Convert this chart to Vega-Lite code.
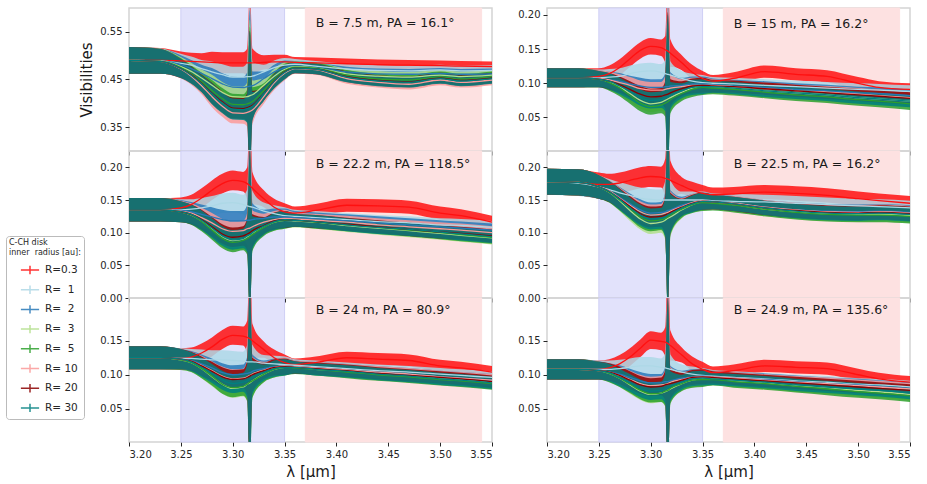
{
  "$schema": "https://vega.github.io/schema/vega-lite/v6.json",
  "description": "Model visibilities for C-CH disks with different inner radii, six baselines.",
  "background": "white",
  "padding": {"left": 5, "top": 6, "right": 5, "bottom": 5},
  "datasets": {
    "zones": [
      {"zone": "aromatic", "x1": 3.25, "x2": 3.35},
      {"zone": "aliphatic", "x1": 3.37, "x2": 3.54}
    ],
    "labels": [
      {"p": "A", "t": "B = 7.5 m, PA = 16.1°"},
      {"p": "B", "t": "B = 15 m, PA = 16.2°"},
      {"p": "C", "t": "B = 22.2 m, PA = 118.5°"},
      {"p": "D", "t": "B = 22.5 m, PA = 16.2°"},
      {"p": "E", "t": "B = 24 m, PA = 80.9°"},
      {"p": "F", "t": "B = 24.9 m, PA = 135.6°"}
    ],
    "vis": [
      {"p":"A","x":3.2,"e":0.028,"a":0.49,"b":0.49,"c":0.49,"d":0.49,"f":0.49,"g":0.49,"h":0.49,"i":0.49},
      {"p":"A","x":3.23,"e":0.026,"a":0.49,"b":0.489,"c":0.489,"d":0.489,"f":0.488,"g":0.488,"h":0.488,"i":0.488},
      {"p":"A","x":3.25,"e":0.02,"a":0.489,"b":0.484,"c":0.481,"d":0.477,"f":0.475,"g":0.472,"h":0.473,"i":0.473},
      {"p":"A","x":3.26,"e":0.018,"a":0.488,"b":0.48,"c":0.473,"d":0.467,"f":0.462,"g":0.457,"h":0.46,"i":0.459},
      {"p":"A","x":3.27,"e":0.018,"a":0.487,"b":0.473,"c":0.463,"d":0.453,"f":0.446,"g":0.437,"h":0.442,"i":0.441},
      {"p":"A","x":3.28,"e":0.022,"a":0.486,"b":0.466,"c":0.452,"d":0.438,"f":0.427,"g":0.414,"h":0.421,"i":0.42},
      {"p":"A","x":3.29,"e":0.022,"a":0.485,"b":0.46,"c":0.441,"d":0.423,"f":0.41,"g":0.394,"h":0.403,"i":0.401},
      {"p":"A","x":3.3,"e":0.022,"a":0.485,"b":0.455,"c":0.434,"d":0.414,"f":0.398,"g":0.38,"h":0.39,"i":0.388},
      {"p":"A","x":3.31,"e":0.022,"a":0.485,"b":0.455,"c":0.433,"d":0.413,"f":0.397,"g":0.379,"h":0.389,"i":0.387},
      {"p":"A","x":3.314,"e":0.03,"a":0.485,"b":0.456,"c":0.435,"d":0.414,"f":0.399,"g":0.381,"h":0.391,"i":0.389},
      {"p":"A","x":3.3165,"e":0.16,"a":0.485,"b":0.456,"c":0.436,"d":0.416,"f":0.401,"g":0.383,"h":0.393,"i":0.391},
      {"p":"A","x":3.319,"e":0.03,"a":0.485,"b":0.457,"c":0.437,"d":0.418,"f":0.404,"g":0.386,"h":0.396,"i":0.394},
      {"p":"A","x":3.33,"e":0.015,"a":0.486,"b":0.466,"c":0.452,"d":0.438,"f":0.427,"g":0.414,"h":0.421,"i":0.42},
      {"p":"A","x":3.34,"e":0.015,"a":0.487,"b":0.475,"c":0.466,"d":0.457,"f":0.45,"g":0.443,"h":0.447,"i":0.446},
      {"p":"A","x":3.35,"e":0.015,"a":0.487,"b":0.48,"c":0.475,"d":0.471,"f":0.468,"g":0.463,"h":0.466,"i":0.465},
      {"p":"A","x":3.36,"e":0.011,"a":0.486,"b":0.482,"c":0.478,"d":0.477,"f":0.476,"g":0.473,"h":0.474,"i":0.474},
      {"p":"A","x":3.38,"e":0.011,"a":0.485,"b":0.478,"c":0.474,"d":0.474,"f":0.474,"g":0.471,"h":0.472,"i":0.472},
      {"p":"A","x":3.41,"e":0.011,"a":0.483,"b":0.472,"c":0.466,"d":0.462,"f":0.459,"g":0.452,"h":0.456,"i":0.455},
      {"p":"A","x":3.44,"e":0.011,"a":0.481,"b":0.469,"c":0.462,"d":0.457,"f":0.451,"g":0.444,"h":0.448,"i":0.447},
      {"p":"A","x":3.47,"e":0.011,"a":0.48,"b":0.468,"c":0.461,"d":0.455,"f":0.449,"g":0.44,"h":0.445,"i":0.444},
      {"p":"A","x":3.5,"e":0.011,"a":0.479,"b":0.47,"c":0.463,"d":0.459,"f":0.456,"g":0.449,"h":0.453,"i":0.452},
      {"p":"A","x":3.52,"e":0.011,"a":0.478,"b":0.468,"c":0.461,"d":0.456,"f":0.451,"g":0.444,"h":0.448,"i":0.447},
      {"p":"A","x":3.55,"e":0.011,"a":0.477,"b":0.469,"c":0.462,"d":0.459,"f":0.456,"g":0.449,"h":0.453,"i":0.452},

      {"p":"B","x":3.2,"e":0.014,"a":0.108,"b":0.108,"c":0.108,"d":0.108,"f":0.108,"g":0.108,"h":0.108,"i":0.108},
      {"p":"B","x":3.23,"e":0.014,"a":0.108,"b":0.108,"c":0.108,"d":0.108,"f":0.108,"g":0.108,"h":0.108,"i":0.108},
      {"p":"B","x":3.25,"e":0.012,"a":0.11,"b":0.108,"c":0.107,"d":0.106,"f":0.106,"g":0.107,"h":0.106,"i":0.106},
      {"p":"B","x":3.26,"e":0.012,"a":0.114,"b":0.109,"c":0.105,"d":0.102,"f":0.101,"g":0.105,"h":0.103,"i":0.103},
      {"p":"B","x":3.27,"e":0.012,"a":0.123,"b":0.11,"c":0.103,"d":0.095,"f":0.093,"g":0.101,"h":0.098,"i":0.096},
      {"p":"B","x":3.28,"e":0.012,"a":0.136,"b":0.114,"c":0.099,"d":0.085,"f":0.082,"g":0.097,"h":0.091,"i":0.088},
      {"p":"B","x":3.29,"e":0.012,"a":0.148,"b":0.117,"c":0.096,"d":0.075,"f":0.071,"g":0.092,"h":0.084,"i":0.079},
      {"p":"B","x":3.3,"e":0.012,"a":0.154,"b":0.118,"c":0.094,"d":0.07,"f":0.066,"g":0.09,"h":0.08,"i":0.075},
      {"p":"B","x":3.31,"e":0.012,"a":0.152,"b":0.116,"c":0.094,"d":0.072,"f":0.068,"g":0.09,"h":0.081,"i":0.076},
      {"p":"B","x":3.314,"e":0.02,"a":0.149,"b":0.114,"c":0.095,"d":0.075,"f":0.071,"g":0.091,"h":0.083,"i":0.079},
      {"p":"B","x":3.3165,"e":0.12,"a":0.147,"b":0.113,"c":0.095,"d":0.077,"f":0.073,"g":0.092,"h":0.084,"i":0.08},
      {"p":"B","x":3.319,"e":0.02,"a":0.144,"b":0.112,"c":0.096,"d":0.079,"f":0.076,"g":0.093,"h":0.086,"i":0.082},
      {"p":"B","x":3.33,"e":0.011,"a":0.13,"b":0.107,"c":0.097,"d":0.087,"f":0.085,"g":0.095,"h":0.092,"i":0.089},
      {"p":"B","x":3.34,"e":0.011,"a":0.116,"b":0.103,"c":0.099,"d":0.093,"f":0.091,"g":0.097,"h":0.096,"i":0.094},
      {"p":"B","x":3.35,"e":0.011,"a":0.107,"b":0.101,"c":0.099,"d":0.095,"f":0.094,"g":0.097,"h":0.097,"i":0.095},
      {"p":"B","x":3.36,"e":0.009,"a":0.103,"b":0.1,"c":0.098,"d":0.095,"f":0.093,"g":0.097,"h":0.096,"i":0.095},
      {"p":"B","x":3.38,"e":0.009,"a":0.107,"b":0.099,"c":0.096,"d":0.093,"f":0.091,"g":0.095,"h":0.095,"i":0.093},
      {"p":"B","x":3.41,"e":0.009,"a":0.117,"b":0.097,"c":0.094,"d":0.089,"f":0.087,"g":0.092,"h":0.092,"i":0.089},
      {"p":"B","x":3.44,"e":0.009,"a":0.113,"b":0.095,"c":0.091,"d":0.086,"f":0.083,"g":0.089,"h":0.089,"i":0.086},
      {"p":"B","x":3.47,"e":0.009,"a":0.11,"b":0.093,"c":0.089,"d":0.083,"f":0.08,"g":0.087,"h":0.086,"i":0.083},
      {"p":"B","x":3.5,"e":0.009,"a":0.1,"b":0.091,"c":0.086,"d":0.079,"f":0.076,"g":0.084,"h":0.083,"i":0.079},
      {"p":"B","x":3.52,"e":0.009,"a":0.094,"b":0.09,"c":0.085,"d":0.077,"f":0.074,"g":0.082,"h":0.081,"i":0.077},
      {"p":"B","x":3.55,"e":0.009,"a":0.091,"b":0.088,"c":0.082,"d":0.074,"f":0.07,"g":0.079,"h":0.078,"i":0.074},

      {"p":"C","x":3.2,"e":0.018,"a":0.135,"b":0.135,"c":0.135,"d":0.135,"f":0.135,"g":0.135,"h":0.135,"i":0.135},
      {"p":"C","x":3.23,"e":0.018,"a":0.135,"b":0.135,"c":0.135,"d":0.135,"f":0.135,"g":0.135,"h":0.135,"i":0.135},
      {"p":"C","x":3.25,"e":0.016,"a":0.138,"b":0.135,"c":0.134,"d":0.132,"f":0.132,"g":0.133,"h":0.132,"i":0.132},
      {"p":"C","x":3.26,"e":0.015,"a":0.143,"b":0.136,"c":0.132,"d":0.127,"f":0.127,"g":0.13,"h":0.128,"i":0.128},
      {"p":"C","x":3.27,"e":0.015,"a":0.153,"b":0.138,"c":0.128,"d":0.118,"f":0.117,"g":0.123,"h":0.12,"i":0.119},
      {"p":"C","x":3.28,"e":0.015,"a":0.165,"b":0.141,"c":0.124,"d":0.106,"f":0.104,"g":0.115,"h":0.109,"i":0.107},
      {"p":"C","x":3.29,"e":0.015,"a":0.175,"b":0.145,"c":0.12,"d":0.094,"f":0.091,"g":0.106,"h":0.098,"i":0.095},
      {"p":"C","x":3.3,"e":0.015,"a":0.18,"b":0.146,"c":0.118,"d":0.088,"f":0.085,"g":0.102,"h":0.093,"i":0.089},
      {"p":"C","x":3.31,"e":0.015,"a":0.178,"b":0.143,"c":0.118,"d":0.09,"f":0.088,"g":0.103,"h":0.095,"i":0.091},
      {"p":"C","x":3.314,"e":0.025,"a":0.175,"b":0.141,"c":0.119,"d":0.094,"f":0.091,"g":0.106,"h":0.098,"i":0.095},
      {"p":"C","x":3.3165,"e":0.13,"a":0.172,"b":0.14,"c":0.119,"d":0.096,"f":0.094,"g":0.107,"h":0.1,"i":0.097},
      {"p":"C","x":3.319,"e":0.025,"a":0.168,"b":0.139,"c":0.12,"d":0.099,"f":0.097,"g":0.109,"h":0.103,"i":0.1},
      {"p":"C","x":3.33,"e":0.013,"a":0.152,"b":0.133,"c":0.122,"d":0.109,"f":0.108,"g":0.116,"h":0.111,"i":0.11},
      {"p":"C","x":3.34,"e":0.013,"a":0.139,"b":0.129,"c":0.124,"d":0.116,"f":0.116,"g":0.12,"h":0.118,"i":0.117},
      {"p":"C","x":3.35,"e":0.013,"a":0.132,"b":0.126,"c":0.124,"d":0.119,"f":0.119,"g":0.122,"h":0.12,"i":0.12},
      {"p":"C","x":3.36,"e":0.01,"a":0.13,"b":0.125,"c":0.123,"d":0.118,"f":0.119,"g":0.121,"h":0.119,"i":0.119},
      {"p":"C","x":3.38,"e":0.01,"a":0.134,"b":0.123,"c":0.121,"d":0.116,"f":0.116,"g":0.119,"h":0.117,"i":0.117},
      {"p":"C","x":3.41,"e":0.01,"a":0.142,"b":0.12,"c":0.118,"d":0.111,"f":0.112,"g":0.116,"h":0.113,"i":0.112},
      {"p":"C","x":3.44,"e":0.01,"a":0.141,"b":0.117,"c":0.115,"d":0.107,"f":0.108,"g":0.112,"h":0.109,"i":0.108},
      {"p":"C","x":3.47,"e":0.01,"a":0.139,"b":0.115,"c":0.112,"d":0.103,"f":0.104,"g":0.109,"h":0.105,"i":0.105},
      {"p":"C","x":3.5,"e":0.01,"a":0.13,"b":0.112,"c":0.109,"d":0.099,"f":0.1,"g":0.106,"h":0.101,"i":0.101},
      {"p":"C","x":3.52,"e":0.01,"a":0.126,"b":0.111,"c":0.107,"d":0.096,"f":0.097,"g":0.104,"h":0.099,"i":0.098},
      {"p":"C","x":3.55,"e":0.01,"a":0.116,"b":0.108,"c":0.104,"d":0.092,"f":0.093,"g":0.1,"h":0.095,"i":0.094},

      {"p":"D","x":3.2,"e":0.02,"a":0.178,"b":0.178,"c":0.178,"d":0.178,"f":0.178,"g":0.178,"h":0.178,"i":0.178},
      {"p":"D","x":3.23,"e":0.02,"a":0.177,"b":0.176,"c":0.177,"d":0.177,"f":0.177,"g":0.177,"h":0.177,"i":0.177},
      {"p":"D","x":3.25,"e":0.018,"a":0.174,"b":0.17,"c":0.17,"d":0.17,"f":0.17,"g":0.17,"h":0.17,"i":0.17},
      {"p":"D","x":3.26,"e":0.016,"a":0.174,"b":0.166,"c":0.164,"d":0.162,"f":0.162,"g":0.164,"h":0.163,"i":0.163},
      {"p":"D","x":3.27,"e":0.016,"a":0.176,"b":0.161,"c":0.154,"d":0.149,"f":0.15,"g":0.153,"h":0.152,"i":0.151},
      {"p":"D","x":3.28,"e":0.016,"a":0.18,"b":0.157,"c":0.144,"d":0.134,"f":0.137,"g":0.142,"h":0.14,"i":0.138},
      {"p":"D","x":3.29,"e":0.016,"a":0.184,"b":0.153,"c":0.135,"d":0.121,"f":0.124,"g":0.132,"h":0.129,"i":0.127},
      {"p":"D","x":3.3,"e":0.016,"a":0.186,"b":0.151,"c":0.13,"d":0.114,"f":0.118,"g":0.127,"h":0.124,"i":0.121},
      {"p":"D","x":3.31,"e":0.016,"a":0.185,"b":0.15,"c":0.131,"d":0.116,"f":0.12,"g":0.128,"h":0.125,"i":0.122},
      {"p":"D","x":3.314,"e":0.03,"a":0.183,"b":0.15,"c":0.132,"d":0.119,"f":0.122,"g":0.13,"h":0.127,"i":0.124},
      {"p":"D","x":3.3165,"e":0.15,"a":0.182,"b":0.15,"c":0.134,"d":0.122,"f":0.124,"g":0.131,"h":0.129,"i":0.127},
      {"p":"D","x":3.319,"e":0.03,"a":0.18,"b":0.15,"c":0.135,"d":0.124,"f":0.127,"g":0.133,"h":0.131,"i":0.129},
      {"p":"D","x":3.33,"e":0.013,"a":0.172,"b":0.15,"c":0.142,"d":0.135,"f":0.136,"g":0.14,"h":0.139,"i":0.138},
      {"p":"D","x":3.34,"e":0.013,"a":0.165,"b":0.15,"c":0.146,"d":0.143,"f":0.143,"g":0.146,"h":0.145,"i":0.144},
      {"p":"D","x":3.35,"e":0.013,"a":0.16,"b":0.15,"c":0.149,"d":0.147,"f":0.146,"g":0.149,"h":0.148,"i":0.148},
      {"p":"D","x":3.36,"e":0.011,"a":0.158,"b":0.149,"c":0.148,"d":0.146,"f":0.145,"g":0.147,"h":0.147,"i":0.147},
      {"p":"D","x":3.38,"e":0.011,"a":0.159,"b":0.148,"c":0.145,"d":0.143,"f":0.142,"g":0.145,"h":0.144,"i":0.144},
      {"p":"D","x":3.41,"e":0.011,"a":0.162,"b":0.147,"c":0.139,"d":0.136,"f":0.136,"g":0.139,"h":0.138,"i":0.138},
      {"p":"D","x":3.44,"e":0.011,"a":0.16,"b":0.145,"c":0.135,"d":0.132,"f":0.131,"g":0.135,"h":0.134,"i":0.133},
      {"p":"D","x":3.47,"e":0.011,"a":0.157,"b":0.143,"c":0.133,"d":0.129,"f":0.128,"g":0.132,"h":0.131,"i":0.13},
      {"p":"D","x":3.5,"e":0.011,"a":0.152,"b":0.141,"c":0.132,"d":0.128,"f":0.127,"g":0.131,"h":0.13,"i":0.129},
      {"p":"D","x":3.52,"e":0.011,"a":0.149,"b":0.14,"c":0.133,"d":0.128,"f":0.127,"g":0.132,"h":0.131,"i":0.13},
      {"p":"D","x":3.55,"e":0.011,"a":0.145,"b":0.138,"c":0.131,"d":0.126,"f":0.125,"g":0.13,"h":0.129,"i":0.128},

      {"p":"E","x":3.2,"e":0.017,"a":0.125,"b":0.125,"c":0.125,"d":0.125,"f":0.125,"g":0.125,"h":0.125,"i":0.125},
      {"p":"E","x":3.23,"e":0.017,"a":0.125,"b":0.125,"c":0.125,"d":0.125,"f":0.125,"g":0.125,"h":0.125,"i":0.125},
      {"p":"E","x":3.25,"e":0.015,"a":0.124,"b":0.124,"c":0.123,"d":0.122,"f":0.122,"g":0.123,"h":0.123,"i":0.123},
      {"p":"E","x":3.26,"e":0.014,"a":0.126,"b":0.124,"c":0.121,"d":0.118,"f":0.118,"g":0.12,"h":0.12,"i":0.119},
      {"p":"E","x":3.27,"e":0.014,"a":0.132,"b":0.123,"c":0.116,"d":0.109,"f":0.109,"g":0.114,"h":0.113,"i":0.111},
      {"p":"E","x":3.28,"e":0.014,"a":0.141,"b":0.122,"c":0.11,"d":0.097,"f":0.098,"g":0.106,"h":0.105,"i":0.102},
      {"p":"E","x":3.29,"e":0.014,"a":0.152,"b":0.122,"c":0.103,"d":0.086,"f":0.086,"g":0.098,"h":0.097,"i":0.092},
      {"p":"E","x":3.3,"e":0.014,"a":0.158,"b":0.121,"c":0.1,"d":0.08,"f":0.081,"g":0.094,"h":0.093,"i":0.087},
      {"p":"E","x":3.31,"e":0.014,"a":0.157,"b":0.12,"c":0.101,"d":0.082,"f":0.083,"g":0.095,"h":0.094,"i":0.089},
      {"p":"E","x":3.314,"e":0.025,"a":0.155,"b":0.119,"c":0.102,"d":0.086,"f":0.086,"g":0.097,"h":0.096,"i":0.091},
      {"p":"E","x":3.3165,"e":0.14,"a":0.153,"b":0.119,"c":0.103,"d":0.088,"f":0.089,"g":0.099,"h":0.098,"i":0.093},
      {"p":"E","x":3.319,"e":0.025,"a":0.15,"b":0.119,"c":0.105,"d":0.091,"f":0.091,"g":0.101,"h":0.1,"i":0.096},
      {"p":"E","x":3.33,"e":0.012,"a":0.137,"b":0.117,"c":0.109,"d":0.101,"f":0.101,"g":0.107,"h":0.106,"i":0.103},
      {"p":"E","x":3.34,"e":0.012,"a":0.125,"b":0.116,"c":0.112,"d":0.108,"f":0.108,"g":0.111,"h":0.111,"i":0.109},
      {"p":"E","x":3.35,"e":0.012,"a":0.118,"b":0.115,"c":0.113,"d":0.111,"f":0.111,"g":0.113,"h":0.112,"i":0.111},
      {"p":"E","x":3.36,"e":0.009,"a":0.115,"b":0.114,"c":0.112,"d":0.111,"f":0.11,"g":0.112,"h":0.111,"i":0.111},
      {"p":"E","x":3.38,"e":0.009,"a":0.118,"b":0.112,"c":0.11,"d":0.108,"f":0.108,"g":0.11,"h":0.109,"i":0.108},
      {"p":"E","x":3.41,"e":0.009,"a":0.125,"b":0.109,"c":0.107,"d":0.105,"f":0.104,"g":0.107,"h":0.106,"i":0.105},
      {"p":"E","x":3.44,"e":0.009,"a":0.123,"b":0.106,"c":0.104,"d":0.101,"f":0.1,"g":0.104,"h":0.102,"i":0.101},
      {"p":"E","x":3.47,"e":0.009,"a":0.121,"b":0.104,"c":0.101,"d":0.098,"f":0.097,"g":0.101,"h":0.099,"i":0.098},
      {"p":"E","x":3.5,"e":0.009,"a":0.113,"b":0.101,"c":0.097,"d":0.094,"f":0.093,"g":0.097,"h":0.096,"i":0.094},
      {"p":"E","x":3.52,"e":0.009,"a":0.11,"b":0.099,"c":0.095,"d":0.092,"f":0.091,"g":0.095,"h":0.094,"i":0.092},
      {"p":"E","x":3.55,"e":0.009,"a":0.104,"b":0.096,"c":0.092,"d":0.088,"f":0.087,"g":0.092,"h":0.09,"i":0.088},

      {"p":"F","x":3.2,"e":0.015,"a":0.108,"b":0.108,"c":0.108,"d":0.108,"f":0.108,"g":0.108,"h":0.108,"i":0.108},
      {"p":"F","x":3.23,"e":0.015,"a":0.108,"b":0.108,"c":0.108,"d":0.108,"f":0.108,"g":0.108,"h":0.108,"i":0.108},
      {"p":"F","x":3.25,"e":0.013,"a":0.108,"b":0.108,"c":0.107,"d":0.106,"f":0.106,"g":0.106,"h":0.106,"i":0.106},
      {"p":"F","x":3.26,"e":0.013,"a":0.11,"b":0.108,"c":0.104,"d":0.102,"f":0.102,"g":0.104,"h":0.104,"i":0.103},
      {"p":"F","x":3.27,"e":0.013,"a":0.116,"b":0.109,"c":0.101,"d":0.095,"f":0.095,"g":0.099,"h":0.099,"i":0.096},
      {"p":"F","x":3.28,"e":0.013,"a":0.126,"b":0.111,"c":0.096,"d":0.085,"f":0.086,"g":0.093,"h":0.092,"i":0.088},
      {"p":"F","x":3.29,"e":0.013,"a":0.139,"b":0.113,"c":0.091,"d":0.076,"f":0.077,"g":0.087,"h":0.085,"i":0.08},
      {"p":"F","x":3.3,"e":0.013,"a":0.151,"b":0.113,"c":0.088,"d":0.071,"f":0.072,"g":0.084,"h":0.082,"i":0.076},
      {"p":"F","x":3.31,"e":0.013,"a":0.149,"b":0.111,"c":0.088,"d":0.073,"f":0.073,"g":0.085,"h":0.083,"i":0.077},
      {"p":"F","x":3.314,"e":0.022,"a":0.148,"b":0.11,"c":0.09,"d":0.075,"f":0.076,"g":0.086,"h":0.085,"i":0.079},
      {"p":"F","x":3.3165,"e":0.13,"a":0.146,"b":0.109,"c":0.09,"d":0.077,"f":0.077,"g":0.087,"h":0.086,"i":0.081},
      {"p":"F","x":3.319,"e":0.022,"a":0.143,"b":0.108,"c":0.091,"d":0.079,"f":0.08,"g":0.089,"h":0.087,"i":0.083},
      {"p":"F","x":3.33,"e":0.011,"a":0.129,"b":0.104,"c":0.095,"d":0.087,"f":0.087,"g":0.093,"h":0.092,"i":0.089},
      {"p":"F","x":3.34,"e":0.011,"a":0.116,"b":0.101,"c":0.097,"d":0.092,"f":0.092,"g":0.096,"h":0.096,"i":0.094},
      {"p":"F","x":3.35,"e":0.011,"a":0.108,"b":0.099,"c":0.098,"d":0.094,"f":0.093,"g":0.097,"h":0.097,"i":0.095},
      {"p":"F","x":3.36,"e":0.009,"a":0.103,"b":0.098,"c":0.097,"d":0.094,"f":0.093,"g":0.097,"h":0.096,"i":0.094},
      {"p":"F","x":3.38,"e":0.009,"a":0.106,"b":0.096,"c":0.095,"d":0.091,"f":0.09,"g":0.095,"h":0.094,"i":0.092},
      {"p":"F","x":3.41,"e":0.009,"a":0.113,"b":0.094,"c":0.093,"d":0.088,"f":0.087,"g":0.092,"h":0.091,"i":0.089},
      {"p":"F","x":3.44,"e":0.009,"a":0.111,"b":0.091,"c":0.09,"d":0.084,"f":0.083,"g":0.089,"h":0.088,"i":0.085},
      {"p":"F","x":3.47,"e":0.009,"a":0.109,"b":0.089,"c":0.087,"d":0.081,"f":0.079,"g":0.087,"h":0.085,"i":0.082},
      {"p":"F","x":3.5,"e":0.009,"a":0.1,"b":0.086,"c":0.085,"d":0.077,"f":0.075,"g":0.084,"h":0.082,"i":0.079},
      {"p":"F","x":3.52,"e":0.009,"a":0.094,"b":0.085,"c":0.083,"d":0.075,"f":0.073,"g":0.082,"h":0.08,"i":0.077},
      {"p":"F","x":3.55,"e":0.009,"a":0.089,"b":0.082,"c":0.08,"d":0.071,"f":0.069,"g":0.079,"h":0.077,"i":0.073}
    ]
  },
  "columns": 2,
  "spacing": {"row": 0, "column": 55},
  "bounds": "flush",
  "resolve": {"scale": {"y": "independent"}, "axis": {"x": "independent", "y": "independent"}},
  "concat": [
    {
      "width": 363, "height": 143,
      "layer": [
        {"data": {"name": "zones"}, "mark": {"type": "rect", "strokeWidth": 1},
         "encoding": {
           "x": {"field": "x1", "type": "quantitative", "scale": {"domain": [3.2, 3.55], "nice": false, "zero": false},
                 "axis": {"values": [3.2, 3.25, 3.3, 3.35, 3.4, 3.45, 3.5, 3.55], "tickCount": 20, "labels": false, "title": null}},
           "x2": {"field": "x2"},
           "fill": {"field": "zone", "type": "nominal", "scale": {"domain": ["aromatic", "aliphatic"], "range": ["#e2e2fb", "#fde1e1"]}, "legend": null},
           "stroke": {"field": "zone", "type": "nominal", "scale": {"domain": ["aromatic", "aliphatic"], "range": ["#cfcff5", "#fde1e1"]}, "legend": null}}},
        {"data": {"name": "vis"},
         "transform": [{"filter": "datum.p == 'A'"}, {"fold": ["a", "b", "c", "d", "f", "g", "h", "i"], "as": ["k", "v"]}],
         "layer": [
           {"mark": {"type": "errorband", "opacity": 0.85, "interpolate": "monotone", "clip": true},
            "encoding": {
              "x": {"field": "x", "type": "quantitative", "scale": {"domain": [3.2, 3.55], "nice": false, "zero": false}},
              "y": {"field": "v", "type": "quantitative", "scale": {"domain": [0.3, 0.6], "nice": false, "zero": false},
                    "axis": {"values": [0.35, 0.45, 0.55], "tickCount": 20, "format": ".2f", "title": "Visibilities"}},
              "yError": {"field": "e"},
              "color": {"field": "k", "type": "nominal", "scale": {"domain": ["a", "b", "c", "d", "f", "g", "h", "i"], "range": ["#ff1010", "#add8e6", "#2878b8", "#b2df8a", "#2ca02c", "#fb9a99", "#8b0000", "#008080"]},
                        "legend": {"title": ["C-CH disk", "inner\u00a0 radius [au]:"], "labelExpr": "datum.value=='a'?'R=0.3':datum.value=='b'?'R=\u00a0\u00a01':datum.value=='c'?'R=\u00a0\u00a02':datum.value=='d'?'R=\u00a0\u00a03':datum.value=='f'?'R=\u00a0\u00a05':datum.value=='g'?'R=\u00a010':datum.value=='h'?'R=\u00a020':'R=\u00a030'"}}}},
           {"mark": {"type": "line", "strokeWidth": 1.3, "interpolate": "monotone", "clip": true},
            "encoding": {
              "x": {"field": "x", "type": "quantitative"},
              "y": {"field": "v", "type": "quantitative"},
              "color": {"field": "k", "type": "nominal", "scale": {"domain": ["a", "b", "c", "d", "f", "g", "h", "i"], "range": ["#ff1010", "#add8e6", "#2878b8", "#b2df8a", "#2ca02c", "#fb9a99", "#8b0000", "#008080"]},
                        "legend": {"title": ["C-CH disk", "inner\u00a0 radius [au]:"], "labelExpr": "datum.value=='a'?'R=0.3':datum.value=='b'?'R=\u00a0\u00a01':datum.value=='c'?'R=\u00a0\u00a02':datum.value=='d'?'R=\u00a0\u00a03':datum.value=='f'?'R=\u00a0\u00a05':datum.value=='g'?'R=\u00a010':datum.value=='h'?'R=\u00a020':'R=\u00a030'"}}}}
         ]},
        {"data": {"name": "labels"}, "transform": [{"filter": "datum.p == 'A'"}],
         "mark": {"type": "text", "align": "left", "baseline": "middle", "fontSize": 12.5, "color": "#1a1a1a"},
         "encoding": {"x": {"datum": 3.38, "type": "quantitative"}, "y": {"datum": 0.568, "type": "quantitative"}, "text": {"field": "t"}}}
      ]
    },
    {
      "width": 363, "height": 143,
      "layer": [
        {"data": {"name": "zones"}, "mark": {"type": "rect", "strokeWidth": 1},
         "encoding": {
           "x": {"field": "x1", "type": "quantitative", "scale": {"domain": [3.2, 3.55], "nice": false, "zero": false},
                 "axis": {"values": [3.2, 3.25, 3.3, 3.35, 3.4, 3.45, 3.5, 3.55], "tickCount": 20, "labels": false, "title": null}},
           "x2": {"field": "x2"},
           "fill": {"field": "zone", "type": "nominal", "scale": {"domain": ["aromatic", "aliphatic"], "range": ["#e2e2fb", "#fde1e1"]}, "legend": null},
           "stroke": {"field": "zone", "type": "nominal", "scale": {"domain": ["aromatic", "aliphatic"], "range": ["#cfcff5", "#fde1e1"]}, "legend": null}}},
        {"data": {"name": "vis"},
         "transform": [{"filter": "datum.p == 'B'"}, {"fold": ["a", "b", "c", "d", "f", "g", "h", "i"], "as": ["k", "v"]}],
         "layer": [
           {"mark": {"type": "errorband", "opacity": 0.85, "interpolate": "monotone", "clip": true},
            "encoding": {
              "x": {"field": "x", "type": "quantitative", "scale": {"domain": [3.2, 3.55], "nice": false, "zero": false}},
              "y": {"field": "v", "type": "quantitative", "scale": {"domain": [0.001, 0.21], "nice": false, "zero": false},
                    "axis": {"values": [0.05, 0.1, 0.15, 0.2], "tickCount": 20, "format": ".2f", "title": null}},
              "yError": {"field": "e"},
              "color": {"field": "k", "type": "nominal", "scale": {"domain": ["a", "b", "c", "d", "f", "g", "h", "i"], "range": ["#ff1010", "#add8e6", "#2878b8", "#b2df8a", "#2ca02c", "#fb9a99", "#8b0000", "#008080"]},
                        "legend": {"title": ["C-CH disk", "inner\u00a0 radius [au]:"], "labelExpr": "datum.value=='a'?'R=0.3':datum.value=='b'?'R=\u00a0\u00a01':datum.value=='c'?'R=\u00a0\u00a02':datum.value=='d'?'R=\u00a0\u00a03':datum.value=='f'?'R=\u00a0\u00a05':datum.value=='g'?'R=\u00a010':datum.value=='h'?'R=\u00a020':'R=\u00a030'"}}}},
           {"mark": {"type": "line", "strokeWidth": 1.3, "interpolate": "monotone", "clip": true},
            "encoding": {
              "x": {"field": "x", "type": "quantitative"},
              "y": {"field": "v", "type": "quantitative"},
              "color": {"field": "k", "type": "nominal", "scale": {"domain": ["a", "b", "c", "d", "f", "g", "h", "i"], "range": ["#ff1010", "#add8e6", "#2878b8", "#b2df8a", "#2ca02c", "#fb9a99", "#8b0000", "#008080"]},
                        "legend": {"title": ["C-CH disk", "inner\u00a0 radius [au]:"], "labelExpr": "datum.value=='a'?'R=0.3':datum.value=='b'?'R=\u00a0\u00a01':datum.value=='c'?'R=\u00a0\u00a02':datum.value=='d'?'R=\u00a0\u00a03':datum.value=='f'?'R=\u00a0\u00a05':datum.value=='g'?'R=\u00a010':datum.value=='h'?'R=\u00a020':'R=\u00a030'"}}}}
         ]},
        {"data": {"name": "labels"}, "transform": [{"filter": "datum.p == 'B'"}],
         "mark": {"type": "text", "align": "left", "baseline": "middle", "fontSize": 12.5, "color": "#1a1a1a"},
         "encoding": {"x": {"datum": 3.38, "type": "quantitative"}, "y": {"datum": 0.187, "type": "quantitative"}, "text": {"field": "t"}}}
      ]
    },
    {
      "width": 363, "height": 147,
      "layer": [
        {"data": {"name": "zones"}, "mark": {"type": "rect", "strokeWidth": 1},
         "encoding": {
           "x": {"field": "x1", "type": "quantitative", "scale": {"domain": [3.2, 3.55], "nice": false, "zero": false},
                 "axis": {"values": [3.2, 3.25, 3.3, 3.35, 3.4, 3.45, 3.5, 3.55], "tickCount": 20, "labels": false, "title": null}},
           "x2": {"field": "x2"},
           "fill": {"field": "zone", "type": "nominal", "scale": {"domain": ["aromatic", "aliphatic"], "range": ["#e2e2fb", "#fde1e1"]}, "legend": null},
           "stroke": {"field": "zone", "type": "nominal", "scale": {"domain": ["aromatic", "aliphatic"], "range": ["#cfcff5", "#fde1e1"]}, "legend": null}}},
        {"data": {"name": "vis"},
         "transform": [{"filter": "datum.p == 'C'"}, {"fold": ["a", "b", "c", "d", "f", "g", "h", "i"], "as": ["k", "v"]}],
         "layer": [
           {"mark": {"type": "errorband", "opacity": 0.85, "interpolate": "monotone", "clip": true},
            "encoding": {
              "x": {"field": "x", "type": "quantitative", "scale": {"domain": [3.2, 3.55], "nice": false, "zero": false}},
              "y": {"field": "v", "type": "quantitative", "scale": {"domain": [0, 0.225], "nice": false, "zero": false},
                    "axis": {"values": [0, 0.05, 0.1, 0.15, 0.2], "tickCount": 20, "format": ".2f", "title": null}},
              "yError": {"field": "e"},
              "color": {"field": "k", "type": "nominal", "scale": {"domain": ["a", "b", "c", "d", "f", "g", "h", "i"], "range": ["#ff1010", "#add8e6", "#2878b8", "#b2df8a", "#2ca02c", "#fb9a99", "#8b0000", "#008080"]},
                        "legend": {"title": ["C-CH disk", "inner\u00a0 radius [au]:"], "labelExpr": "datum.value=='a'?'R=0.3':datum.value=='b'?'R=\u00a0\u00a01':datum.value=='c'?'R=\u00a0\u00a02':datum.value=='d'?'R=\u00a0\u00a03':datum.value=='f'?'R=\u00a0\u00a05':datum.value=='g'?'R=\u00a010':datum.value=='h'?'R=\u00a020':'R=\u00a030'"}}}},
           {"mark": {"type": "line", "strokeWidth": 1.3, "interpolate": "monotone", "clip": true},
            "encoding": {
              "x": {"field": "x", "type": "quantitative"},
              "y": {"field": "v", "type": "quantitative"},
              "color": {"field": "k", "type": "nominal", "scale": {"domain": ["a", "b", "c", "d", "f", "g", "h", "i"], "range": ["#ff1010", "#add8e6", "#2878b8", "#b2df8a", "#2ca02c", "#fb9a99", "#8b0000", "#008080"]},
                        "legend": {"title": ["C-CH disk", "inner\u00a0 radius [au]:"], "labelExpr": "datum.value=='a'?'R=0.3':datum.value=='b'?'R=\u00a0\u00a01':datum.value=='c'?'R=\u00a0\u00a02':datum.value=='d'?'R=\u00a0\u00a03':datum.value=='f'?'R=\u00a0\u00a05':datum.value=='g'?'R=\u00a010':datum.value=='h'?'R=\u00a020':'R=\u00a030'"}}}}
         ]},
        {"data": {"name": "labels"}, "transform": [{"filter": "datum.p == 'C'"}],
         "mark": {"type": "text", "align": "left", "baseline": "middle", "fontSize": 12.5, "color": "#1a1a1a"},
         "encoding": {"x": {"datum": 3.38, "type": "quantitative"}, "y": {"datum": 0.205, "type": "quantitative"}, "text": {"field": "t"}}}
      ]
    },
    {
      "width": 363, "height": 147,
      "layer": [
        {"data": {"name": "zones"}, "mark": {"type": "rect", "strokeWidth": 1},
         "encoding": {
           "x": {"field": "x1", "type": "quantitative", "scale": {"domain": [3.2, 3.55], "nice": false, "zero": false},
                 "axis": {"values": [3.2, 3.25, 3.3, 3.35, 3.4, 3.45, 3.5, 3.55], "tickCount": 20, "labels": false, "title": null}},
           "x2": {"field": "x2"},
           "fill": {"field": "zone", "type": "nominal", "scale": {"domain": ["aromatic", "aliphatic"], "range": ["#e2e2fb", "#fde1e1"]}, "legend": null},
           "stroke": {"field": "zone", "type": "nominal", "scale": {"domain": ["aromatic", "aliphatic"], "range": ["#cfcff5", "#fde1e1"]}, "legend": null}}},
        {"data": {"name": "vis"},
         "transform": [{"filter": "datum.p == 'D'"}, {"fold": ["a", "b", "c", "d", "f", "g", "h", "i"], "as": ["k", "v"]}],
         "layer": [
           {"mark": {"type": "errorband", "opacity": 0.85, "interpolate": "monotone", "clip": true},
            "encoding": {
              "x": {"field": "x", "type": "quantitative", "scale": {"domain": [3.2, 3.55], "nice": false, "zero": false}},
              "y": {"field": "v", "type": "quantitative", "scale": {"domain": [0, 0.225], "nice": false, "zero": false},
                    "axis": {"values": [0, 0.05, 0.1, 0.15, 0.2], "tickCount": 20, "format": ".2f", "title": null}},
              "yError": {"field": "e"},
              "color": {"field": "k", "type": "nominal", "scale": {"domain": ["a", "b", "c", "d", "f", "g", "h", "i"], "range": ["#ff1010", "#add8e6", "#2878b8", "#b2df8a", "#2ca02c", "#fb9a99", "#8b0000", "#008080"]},
                        "legend": {"title": ["C-CH disk", "inner\u00a0 radius [au]:"], "labelExpr": "datum.value=='a'?'R=0.3':datum.value=='b'?'R=\u00a0\u00a01':datum.value=='c'?'R=\u00a0\u00a02':datum.value=='d'?'R=\u00a0\u00a03':datum.value=='f'?'R=\u00a0\u00a05':datum.value=='g'?'R=\u00a010':datum.value=='h'?'R=\u00a020':'R=\u00a030'"}}}},
           {"mark": {"type": "line", "strokeWidth": 1.3, "interpolate": "monotone", "clip": true},
            "encoding": {
              "x": {"field": "x", "type": "quantitative"},
              "y": {"field": "v", "type": "quantitative"},
              "color": {"field": "k", "type": "nominal", "scale": {"domain": ["a", "b", "c", "d", "f", "g", "h", "i"], "range": ["#ff1010", "#add8e6", "#2878b8", "#b2df8a", "#2ca02c", "#fb9a99", "#8b0000", "#008080"]},
                        "legend": {"title": ["C-CH disk", "inner\u00a0 radius [au]:"], "labelExpr": "datum.value=='a'?'R=0.3':datum.value=='b'?'R=\u00a0\u00a01':datum.value=='c'?'R=\u00a0\u00a02':datum.value=='d'?'R=\u00a0\u00a03':datum.value=='f'?'R=\u00a0\u00a05':datum.value=='g'?'R=\u00a010':datum.value=='h'?'R=\u00a020':'R=\u00a030'"}}}}
         ]},
        {"data": {"name": "labels"}, "transform": [{"filter": "datum.p == 'D'"}],
         "mark": {"type": "text", "align": "left", "baseline": "middle", "fontSize": 12.5, "color": "#1a1a1a"},
         "encoding": {"x": {"datum": 3.38, "type": "quantitative"}, "y": {"datum": 0.205, "type": "quantitative"}, "text": {"field": "t"}}}
      ]
    },
    {
      "width": 363, "height": 144,
      "layer": [
        {"data": {"name": "zones"}, "mark": {"type": "rect", "strokeWidth": 1},
         "encoding": {
           "x": {"field": "x1", "type": "quantitative", "scale": {"domain": [3.2, 3.55], "nice": false, "zero": false},
                 "axis": {"values": [3.2, 3.25, 3.3, 3.35, 3.4, 3.45, 3.5, 3.55], "tickCount": 20, "format": ".2f", "title": "λ [μm]"}},
           "x2": {"field": "x2"},
           "fill": {"field": "zone", "type": "nominal", "scale": {"domain": ["aromatic", "aliphatic"], "range": ["#e2e2fb", "#fde1e1"]}, "legend": null},
           "stroke": {"field": "zone", "type": "nominal", "scale": {"domain": ["aromatic", "aliphatic"], "range": ["#cfcff5", "#fde1e1"]}, "legend": null}}},
        {"data": {"name": "vis"},
         "transform": [{"filter": "datum.p == 'E'"}, {"fold": ["a", "b", "c", "d", "f", "g", "h", "i"], "as": ["k", "v"]}],
         "layer": [
           {"mark": {"type": "errorband", "opacity": 0.85, "interpolate": "monotone", "clip": true},
            "encoding": {
              "x": {"field": "x", "type": "quantitative", "scale": {"domain": [3.2, 3.55], "nice": false, "zero": false}},
              "y": {"field": "v", "type": "quantitative", "scale": {"domain": [0.001, 0.213], "nice": false, "zero": false},
                    "axis": {"values": [0.05, 0.1, 0.15], "tickCount": 20, "format": ".2f", "title": null}},
              "yError": {"field": "e"},
              "color": {"field": "k", "type": "nominal", "scale": {"domain": ["a", "b", "c", "d", "f", "g", "h", "i"], "range": ["#ff1010", "#add8e6", "#2878b8", "#b2df8a", "#2ca02c", "#fb9a99", "#8b0000", "#008080"]},
                        "legend": {"title": ["C-CH disk", "inner\u00a0 radius [au]:"], "labelExpr": "datum.value=='a'?'R=0.3':datum.value=='b'?'R=\u00a0\u00a01':datum.value=='c'?'R=\u00a0\u00a02':datum.value=='d'?'R=\u00a0\u00a03':datum.value=='f'?'R=\u00a0\u00a05':datum.value=='g'?'R=\u00a010':datum.value=='h'?'R=\u00a020':'R=\u00a030'"}}}},
           {"mark": {"type": "line", "strokeWidth": 1.3, "interpolate": "monotone", "clip": true},
            "encoding": {
              "x": {"field": "x", "type": "quantitative"},
              "y": {"field": "v", "type": "quantitative"},
              "color": {"field": "k", "type": "nominal", "scale": {"domain": ["a", "b", "c", "d", "f", "g", "h", "i"], "range": ["#ff1010", "#add8e6", "#2878b8", "#b2df8a", "#2ca02c", "#fb9a99", "#8b0000", "#008080"]},
                        "legend": {"title": ["C-CH disk", "inner\u00a0 radius [au]:"], "labelExpr": "datum.value=='a'?'R=0.3':datum.value=='b'?'R=\u00a0\u00a01':datum.value=='c'?'R=\u00a0\u00a02':datum.value=='d'?'R=\u00a0\u00a03':datum.value=='f'?'R=\u00a0\u00a05':datum.value=='g'?'R=\u00a010':datum.value=='h'?'R=\u00a020':'R=\u00a030'"}}}}
         ]},
        {"data": {"name": "labels"}, "transform": [{"filter": "datum.p == 'E'"}],
         "mark": {"type": "text", "align": "left", "baseline": "middle", "fontSize": 12.5, "color": "#1a1a1a"},
         "encoding": {"x": {"datum": 3.38, "type": "quantitative"}, "y": {"datum": 0.196, "type": "quantitative"}, "text": {"field": "t"}}}
      ]
    },
    {
      "width": 363, "height": 144,
      "layer": [
        {"data": {"name": "zones"}, "mark": {"type": "rect", "strokeWidth": 1},
         "encoding": {
           "x": {"field": "x1", "type": "quantitative", "scale": {"domain": [3.2, 3.55], "nice": false, "zero": false},
                 "axis": {"values": [3.2, 3.25, 3.3, 3.35, 3.4, 3.45, 3.5, 3.55], "tickCount": 20, "format": ".2f", "title": "λ [μm]"}},
           "x2": {"field": "x2"},
           "fill": {"field": "zone", "type": "nominal", "scale": {"domain": ["aromatic", "aliphatic"], "range": ["#e2e2fb", "#fde1e1"]}, "legend": null},
           "stroke": {"field": "zone", "type": "nominal", "scale": {"domain": ["aromatic", "aliphatic"], "range": ["#cfcff5", "#fde1e1"]}, "legend": null}}},
        {"data": {"name": "vis"},
         "transform": [{"filter": "datum.p == 'F'"}, {"fold": ["a", "b", "c", "d", "f", "g", "h", "i"], "as": ["k", "v"]}],
         "layer": [
           {"mark": {"type": "errorband", "opacity": 0.85, "interpolate": "monotone", "clip": true},
            "encoding": {
              "x": {"field": "x", "type": "quantitative", "scale": {"domain": [3.2, 3.55], "nice": false, "zero": false}},
              "y": {"field": "v", "type": "quantitative", "scale": {"domain": [0.001, 0.213], "nice": false, "zero": false},
                    "axis": {"values": [0.05, 0.1, 0.15], "tickCount": 20, "format": ".2f", "title": null}},
              "yError": {"field": "e"},
              "color": {"field": "k", "type": "nominal", "scale": {"domain": ["a", "b", "c", "d", "f", "g", "h", "i"], "range": ["#ff1010", "#add8e6", "#2878b8", "#b2df8a", "#2ca02c", "#fb9a99", "#8b0000", "#008080"]},
                        "legend": {"title": ["C-CH disk", "inner\u00a0 radius [au]:"], "labelExpr": "datum.value=='a'?'R=0.3':datum.value=='b'?'R=\u00a0\u00a01':datum.value=='c'?'R=\u00a0\u00a02':datum.value=='d'?'R=\u00a0\u00a03':datum.value=='f'?'R=\u00a0\u00a05':datum.value=='g'?'R=\u00a010':datum.value=='h'?'R=\u00a020':'R=\u00a030'"}}}},
           {"mark": {"type": "line", "strokeWidth": 1.3, "interpolate": "monotone", "clip": true},
            "encoding": {
              "x": {"field": "x", "type": "quantitative"},
              "y": {"field": "v", "type": "quantitative"},
              "color": {"field": "k", "type": "nominal", "scale": {"domain": ["a", "b", "c", "d", "f", "g", "h", "i"], "range": ["#ff1010", "#add8e6", "#2878b8", "#b2df8a", "#2ca02c", "#fb9a99", "#8b0000", "#008080"]},
                        "legend": {"title": ["C-CH disk", "inner\u00a0 radius [au]:"], "labelExpr": "datum.value=='a'?'R=0.3':datum.value=='b'?'R=\u00a0\u00a01':datum.value=='c'?'R=\u00a0\u00a02':datum.value=='d'?'R=\u00a0\u00a03':datum.value=='f'?'R=\u00a0\u00a05':datum.value=='g'?'R=\u00a010':datum.value=='h'?'R=\u00a020':'R=\u00a030'"}}}}
         ]},
        {"data": {"name": "labels"}, "transform": [{"filter": "datum.p == 'F'"}],
         "mark": {"type": "text", "align": "left", "baseline": "middle", "fontSize": 12.5, "color": "#1a1a1a"},
         "encoding": {"x": {"datum": 3.38, "type": "quantitative"}, "y": {"datum": 0.196, "type": "quantitative"}, "text": {"field": "t"}}}
      ]
    }
  ],
  "config": {
    "font": "DejaVu Sans",
    "view": {"stroke": "#d4d4d4", "strokeWidth": 1.5},
    "axis": {"grid": false, "domain": false, "labelOverlap": false, "labelFontSize": 10, "labelColor": "#262626", "tickColor": "#262626", "tickSize": 4, "tickWidth": 1, "labelPadding": 3, "titleFontSize": 15, "titleFontWeight": "normal", "titleColor": "#1a1a1a", "titlePadding": 5},
    "legend": {
      "orient": "none", "legendX": -123, "legendY": 228,
      "titleFontSize": 8, "titleFontWeight": "normal", "titleColor": "#262626", "titleLineHeight": 10, "titlePadding": 5,
      "labelFontSize": 10.5, "labelColor": "#262626", "labelOffset": 7,
      "symbolType": "M-1.3,0H1.3M0,-0.6V0.6", "symbolSize": 196, "symbolStrokeWidth": 1.5, "symbolOffset": 13,
      "rowPadding": 3.7, "padding": 3, "fillColor": "white", "strokeColor": "#bbbbbb", "cornerRadius": 3
    }
  }
}
